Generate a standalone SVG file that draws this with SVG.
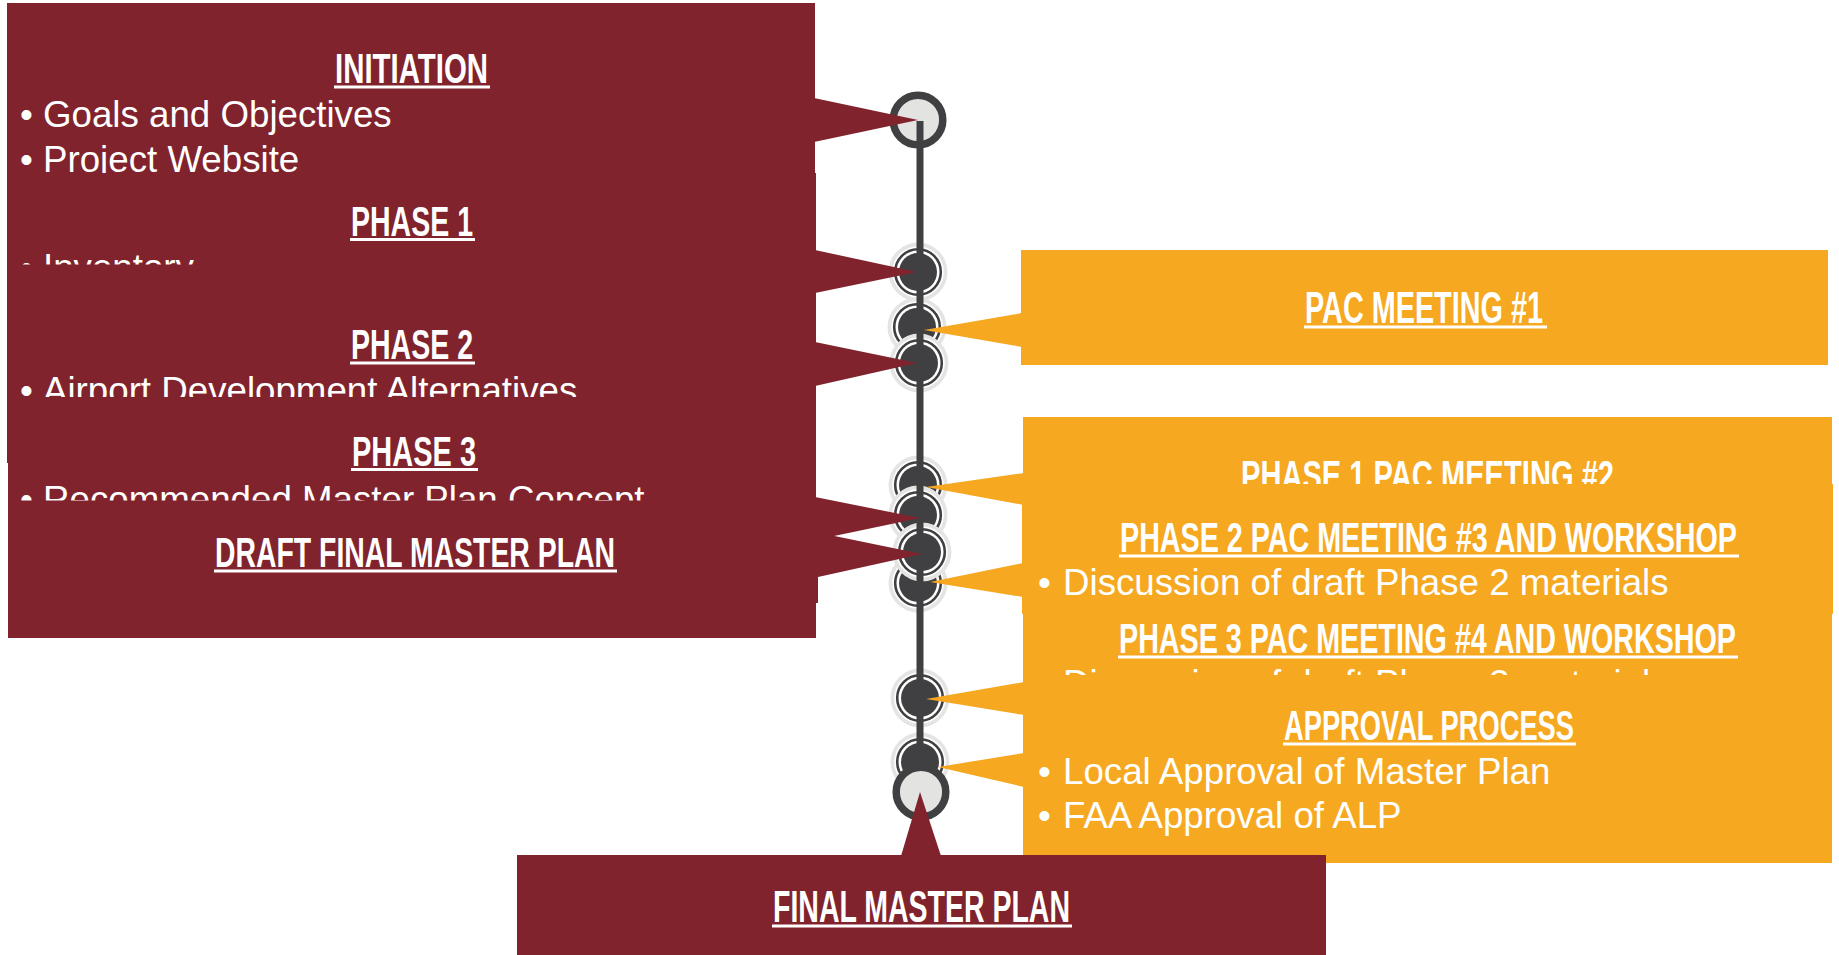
<svg xmlns="http://www.w3.org/2000/svg" width="1839" height="955" viewBox="0 0 1839 955">
<style>
.red{fill:#80232D}
.org{fill:#F6A821}
.hd{font-family:"Liberation Sans",Arial,sans-serif;font-weight:700;font-size:42px;fill:#fff}
.bd{font-family:"Liberation Sans",Arial,sans-serif;font-size:36.7px;fill:#fff}
.ul{fill:#fff}
.tl{stroke:#404042;stroke-width:7;fill:none}
</style>
<defs>
<g id="dot">
<circle r="29.5" fill="#e4e4e3"/>
<circle r="25.8" fill="#fff"/>
<circle r="22.8" fill="none" stroke="#404042" stroke-width="2.6"/>
<circle r="19" fill="#404042"/>
</g>
<g id="endpt">
<circle r="24.8" fill="#e3e3e1" stroke="#404042" stroke-width="7.5"/>
</g>
</defs>
<rect width="1839" height="955" fill="#fff"/>

<g id="timeline-markers">
<use href="#endpt" x="918" y="120"/>
<use href="#dot" x="918" y="272"/>
<use href="#dot" x="917" y="327"/>
<use href="#dot" x="919" y="363"/>
<use href="#dot" x="918" y="485"/>
<use href="#dot" x="918" y="515"/>
<use href="#dot" x="918" y="583"/>
<use href="#dot" x="922" y="552"/>
<use href="#dot" x="920" y="698"/>
<use href="#dot" x="920" y="762"/>
</g>
<g id="connectors">
<line class="tl" x1="920" y1="121" x2="920" y2="775"/>
</g>
<g id="timeline-end">
<use href="#endpt" x="921" y="792"/>
</g>

<g id="initiation">
<rect class="red" x="7" y="3" width="808" height="180"/>
<polygon class="red" points="814,98 918,120 814,142"/>
<text class="hd" x="335" y="83" textLength="153" lengthAdjust="spacingAndGlyphs">INITIATION</text>
<rect class="ul" x="334" y="85.5" width="156" height="3"/>
<text class="bd" y="127"><tspan x="20">•</tspan><tspan x="43">Goals and Objectives</tspan></text>
<text class="bd" y="172"><tspan x="20">•</tspan><tspan x="43">Project Website</tspan></text>
</g>

<g id="phase1">
<rect class="red" x="7" y="173" width="809" height="130"/>
<polygon class="red" points="815,250 917,272 815,293"/>
<text class="hd" x="351" y="235.5" textLength="122" lengthAdjust="spacingAndGlyphs">PHASE 1</text>
<rect class="ul" x="350" y="238" width="125" height="3"/>
<text class="bd" y="279.5"><tspan x="20">•</tspan><tspan x="43">Inventory</tspan></text>
</g>

<g id="pac1">
<rect class="org" x="1021" y="250" width="807" height="115"/>
<polygon class="org" points="1022,313 924,330 1022,347"/>
<text class="hd" x="1305" y="323" font-size="44" style="font-size:44px" textLength="238" lengthAdjust="spacingAndGlyphs">PAC MEETING #1</text>
<rect class="ul" x="1304" y="325.5" width="243" height="3"/>
</g>

<g id="phase2">
<rect class="red" x="7" y="264.5" width="809" height="198.5"/>
<polygon class="red" points="815,342 917,363 815,386"/>
<text class="hd" x="351" y="359" textLength="122" lengthAdjust="spacingAndGlyphs">PHASE 2</text>
<rect class="ul" x="350" y="361.5" width="125" height="3"/>
<text class="bd" y="403"><tspan x="20">•</tspan><tspan x="43">Airport Development Alternatives</tspan></text>
</g>

<g id="pac2">
<rect class="org" x="1023" y="417" width="809" height="150"/>
<polygon class="org" points="1024,473 926,487 1024,505"/>
<text class="hd" x="1241" y="490" textLength="373" lengthAdjust="spacingAndGlyphs">PHASE 1 PAC MEETING #2</text>
<rect class="ul" x="1240" y="492.5" width="376" height="3"/>
</g>

<g id="phase3">
<rect class="red" x="8" y="397" width="808" height="145"/>
<polygon class="red" points="815,497 920,518 815,540"/>
<text class="hd" x="352" y="465.5" textLength="124" lengthAdjust="spacingAndGlyphs">PHASE 3</text>
<rect class="ul" x="351" y="468" width="127" height="3"/>
<text class="bd" y="512"><tspan x="20">•</tspan><tspan x="43">Recommended Master Plan Concept</tspan></text>
</g>

<g id="pac3">
<rect class="org" x="1022" y="484" width="811" height="130"/>
<polygon class="org" points="1023,563 930,582 1023,597"/>
<text class="hd" x="1120" y="552" textLength="617" lengthAdjust="spacingAndGlyphs">PHASE 2 PAC MEETING #3 AND WORKSHOP</text>
<rect class="ul" x="1119" y="554.5" width="620" height="3"/>
<text class="bd" y="595"><tspan x="1038">•</tspan><tspan x="1063">Discussion of draft Phase 2 materials</tspan></text>
</g>

<g id="draft">
<rect class="red" x="8" y="500.5" width="808" height="137.5"/>
<polygon class="red" points="815,532 922,554 818,577 818,603 815,603"/>
<text class="hd" x="215" y="567" textLength="400" lengthAdjust="spacingAndGlyphs">DRAFT FINAL MASTER PLAN</text>
<rect class="ul" x="214" y="569.5" width="403" height="3"/>
</g>

<g id="pac4">
<rect class="org" x="1023" y="606" width="809" height="100"/>
<polygon class="org" points="1024,682 926,699 1024,715"/>
<text class="hd" x="1119" y="653" textLength="617" lengthAdjust="spacingAndGlyphs">PHASE 3 PAC MEETING #4 AND WORKSHOP</text>
<rect class="ul" x="1118" y="655.5" width="620" height="3"/>
<text class="bd" y="695.5"><tspan x="1038">•</tspan><tspan x="1063">Discussion of draft Phase 3 materials</tspan></text>
</g>

<g id="approval">
<rect class="org" x="1023" y="675" width="809" height="188"/>
<polygon class="org" points="1024,753 938,767 1024,787"/>
<text class="hd" x="1284" y="740" textLength="290" lengthAdjust="spacingAndGlyphs">APPROVAL PROCESS</text>
<rect class="ul" x="1283" y="742.5" width="293" height="3"/>
<text class="bd" y="784"><tspan x="1038">•</tspan><tspan x="1063">Local Approval of Master Plan</tspan></text>
<text class="bd" y="828"><tspan x="1038">•</tspan><tspan x="1063">FAA Approval of ALP</tspan></text>
</g>

<g id="final">
<rect class="red" x="517" y="855" width="809" height="100"/>
<polygon class="red" points="901,856 920,792 941,856"/>
<text class="hd" x="773" y="922" style="font-size:44px" textLength="297" lengthAdjust="spacingAndGlyphs">FINAL MASTER PLAN</text>
<rect class="ul" x="772" y="924.5" width="300" height="3"/>
</g>
</svg>
